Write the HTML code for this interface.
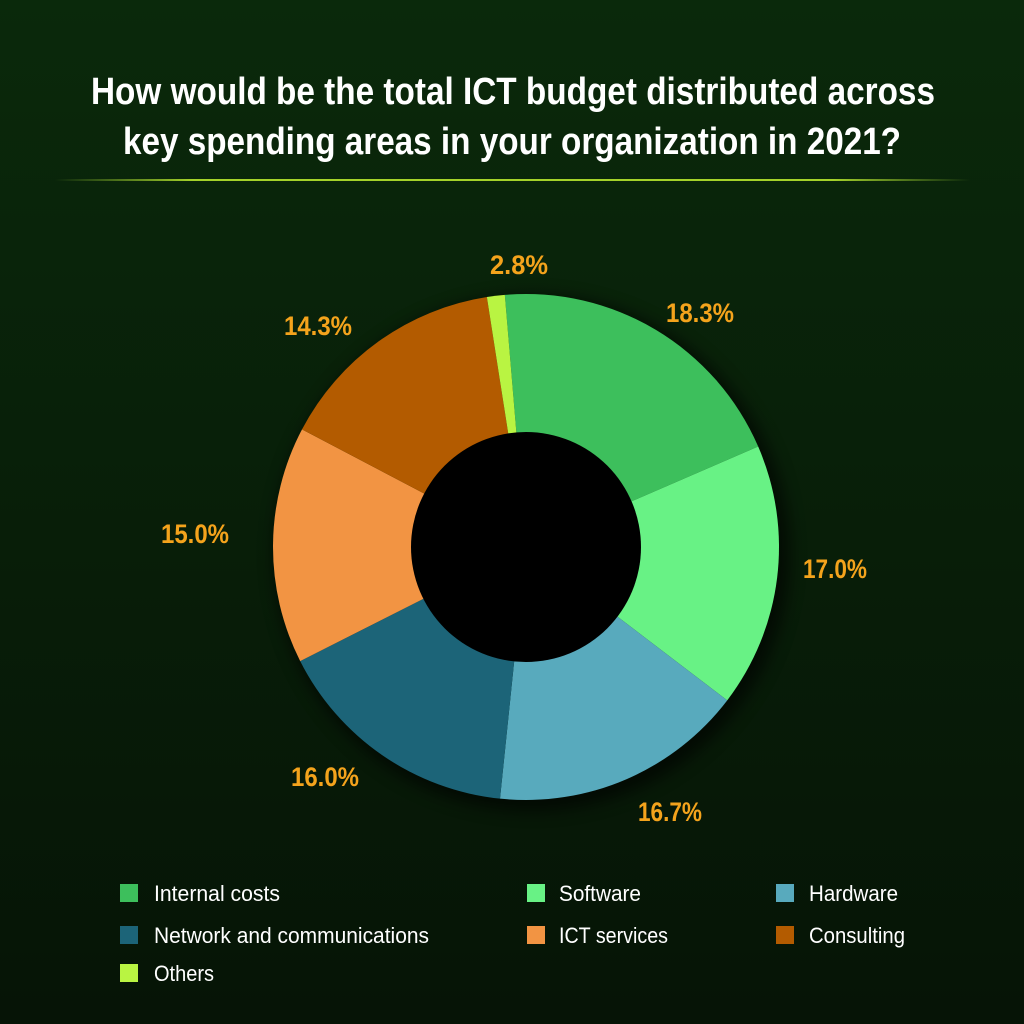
<!DOCTYPE html>
<html><head><meta charset="utf-8"><style>
html,body{margin:0;padding:0}
body{width:1024px;height:1024px;background:linear-gradient(#0a290b,#061406);overflow:hidden}
svg{display:block}
</style></head><body>
<svg width="1024" height="1024" viewBox="0 0 1024 1024" font-family="Liberation Sans, sans-serif">
<defs>
<linearGradient id="ln" x1="0" x2="1"><stop offset="0" stop-color="#9acd32" stop-opacity="0"/><stop offset="0.15" stop-color="#a5d22a"/><stop offset="0.85" stop-color="#a5d22a"/><stop offset="1" stop-color="#9acd32" stop-opacity="0"/></linearGradient>
<filter id="sh" x="-20%" y="-20%" width="140%" height="140%"><feGaussianBlur stdDeviation="8"/></filter>
</defs>
<g fill="#fff" font-size="38" font-weight="bold" text-anchor="middle">
<text x="513" y="104" textLength="844" lengthAdjust="spacingAndGlyphs">How would be the total ICT budget distributed across</text>
<text x="512" y="154" textLength="778" lengthAdjust="spacingAndGlyphs">key spending areas in your organization in 2021?</text>
</g>
<rect x="55" y="179" width="915" height="2" fill="url(#ln)"/>
<circle cx="532" cy="553" r="258" fill="#000" opacity="0.6" filter="url(#sh)"/>
<g id="pie"></g>
<circle cx="526" cy="547" r="115" fill="#000"/>
<g fill="#f4a31c" font-size="27" font-weight="bold" text-anchor="middle">
<text x="519" y="274" textLength="58" lengthAdjust="spacingAndGlyphs">2.8%</text>
<text x="700" y="322" textLength="68" lengthAdjust="spacingAndGlyphs">18.3%</text>
<text x="318" y="335" textLength="68" lengthAdjust="spacingAndGlyphs">14.3%</text>
<text x="195" y="543" textLength="68" lengthAdjust="spacingAndGlyphs">15.0%</text>
<text x="835" y="578" textLength="64" lengthAdjust="spacingAndGlyphs">17.0%</text>
<text x="325" y="786" textLength="68" lengthAdjust="spacingAndGlyphs">16.0%</text>
<text x="670" y="821" textLength="64" lengthAdjust="spacingAndGlyphs">16.7%</text>
</g>
<g font-size="22" fill="#fff">
<rect x="120" y="884" width="18" height="18" fill="#3dbf5c"/><text x="154" y="901" textLength="126" lengthAdjust="spacingAndGlyphs">Internal costs</text>
<rect x="527" y="884" width="18" height="18" fill="#68f285"/><text x="559" y="901" textLength="82" lengthAdjust="spacingAndGlyphs">Software</text>
<rect x="776" y="884" width="18" height="18" fill="#58aabd"/><text x="809" y="901" textLength="89" lengthAdjust="spacingAndGlyphs">Hardware</text>
<rect x="120" y="926" width="18" height="18" fill="#1c6478"/><text x="154" y="943" textLength="275" lengthAdjust="spacingAndGlyphs">Network and communications</text>
<rect x="527" y="926" width="18" height="18" fill="#f29443"/><text x="559" y="943" textLength="109" lengthAdjust="spacingAndGlyphs">ICT services</text>
<rect x="776" y="926" width="18" height="18" fill="#b35b00"/><text x="809" y="943" textLength="96" lengthAdjust="spacingAndGlyphs">Consulting</text>
<rect x="120" y="964" width="18" height="18" fill="#b9f442"/><text x="154" y="981" textLength="60" lengthAdjust="spacingAndGlyphs">Others</text>
</g>
</svg>
<script>
var cx=526,cy=547,r=253;
var seg=[[355.2,426.6,"#3dbf5c"],[66.6,127.3,"#68f285"],[127.3,185.9,"#58aabd"],[185.9,243.2,"#1c6478"],[243.2,297.7,"#f29443"],[297.7,351.1,"#b35b00"],[351.1,355.2,"#b9f442"]];
var g=document.getElementById("pie"),s="";
function p(a){a=a*Math.PI/180;return (cx+r*Math.sin(a)).toFixed(2)+","+(cy-r*Math.cos(a)).toFixed(2);}
seg.forEach(function(t){var l=(t[1]-t[0])>180?1:0;s+='<path d="M'+cx+','+cy+' L'+p(t[0])+' A'+r+','+r+' 0 '+l+' 1 '+p(t[1])+' Z" fill="'+t[2]+'"/>';});
g.innerHTML=s;
</script>
</body></html>
